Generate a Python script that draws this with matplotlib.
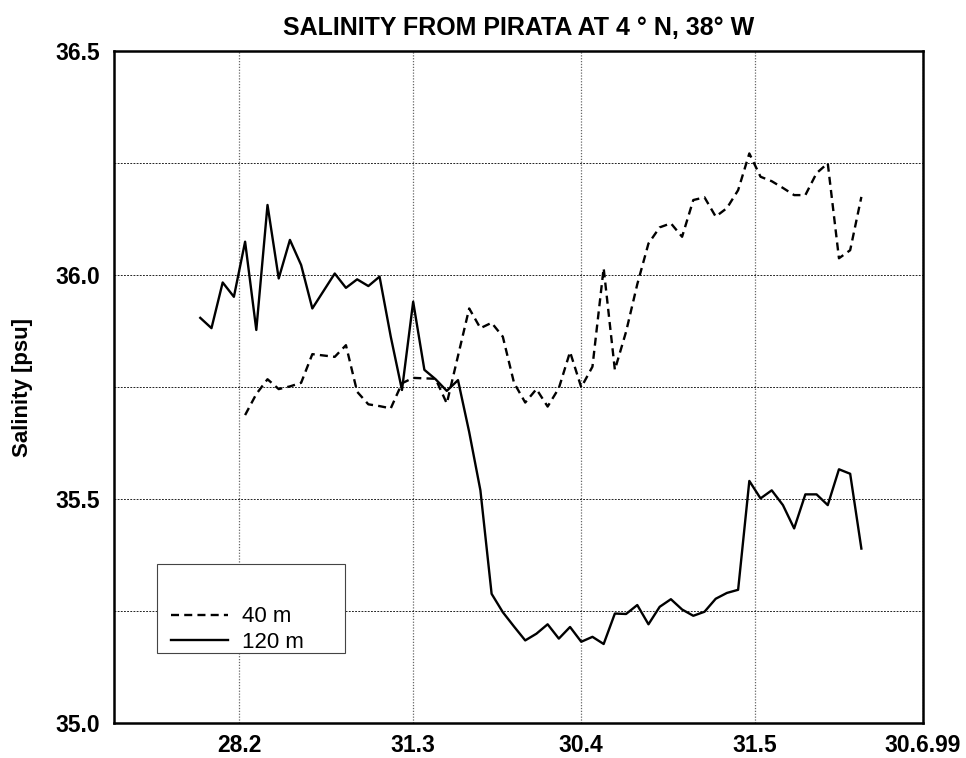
import numpy as np
import matplotlib
matplotlib.use("Agg")
import matplotlib.pyplot as plt
from matplotlib.patches import Rectangle

plt.rcParams['font.family'] = ['Liberation Sans', 'DejaVu Sans']

# day of year 1999, one sample every two days
days_40 = np.arange(60, 171, 2)
days_120 = np.arange(52, 171, 2)

sal_40 = [35.688, 35.735, 35.768, 35.746, 35.752, 35.760, 35.824, 35.821,
          35.818, 35.844, 35.740, 35.712, 35.708, 35.703, 35.759, 35.771,
          35.770, 35.769, 35.714, 35.820, 35.926, 35.882, 35.894, 35.863,
          35.760, 35.716, 35.746, 35.707, 35.748, 35.829, 35.750, 35.796,
          36.016, 35.789, 35.874, 35.980, 36.071, 36.107, 36.116, 36.086,
          36.168, 36.174, 36.131, 36.150, 36.190, 36.272, 36.220, 36.210,
          36.195, 36.179, 36.179, 36.228, 36.250, 36.038, 36.056, 36.175]

sal_120 = [35.905, 35.882, 35.984, 35.952, 36.075, 35.878, 36.157, 35.993,
           36.079, 36.023, 35.926, 35.965, 36.004, 35.972, 35.991, 35.976,
           35.997, 35.863, 35.744, 35.941, 35.789, 35.768, 35.742, 35.766,
           35.650, 35.520, 35.289, 35.248, 35.216, 35.185, 35.200, 35.221,
           35.189, 35.215, 35.182, 35.193, 35.177, 35.245, 35.244, 35.264,
           35.221, 35.260, 35.277, 35.254, 35.240, 35.249, 35.278, 35.291,
           35.298, 35.541, 35.502, 35.520, 35.487, 35.435, 35.511, 35.511,
           35.487, 35.567, 35.557, 35.390]

tick_days = [59, 90, 120, 151, 181]
tick_labels = ["28.2", "31.3", "30.4", "31.5", "30.6.99"]
y_major = [35.0, 35.5, 36.0, 36.5]
y_minor = [35.25, 35.75, 36.25]

fig = plt.figure(figsize=(9.66, 7.58), dpi=100)
ax = fig.add_axes([114/966, 1 - 723.3/758, 809/966, 672/758])

ax.plot(days_40, sal_40, color="black", linewidth=1.7, dashes=(3.4, 2.2), label="40 m")
ax.plot(days_120, sal_120, color="black", linewidth=1.7, label="120 m")

ax.set_xlim(36.6, 181)
ax.set_ylim(35.0, 36.5)
ax.set_xticks(tick_days)
ax.set_xticklabels(tick_labels)
ax.set_yticks(y_major)
ax.set_yticks(y_minor, minor=True)
ax.set_yticklabels([f"{v:.1f}" for v in y_major])

ax.grid(axis="x", which="major", color="#666666", linestyle=(0, (1, 1.3)), linewidth=0.9)
ax.grid(axis="y", which="both", color="black", linestyle=(0, (2.2, 1.6)), linewidth=0.6)

ax.tick_params(axis="both", which="both", length=0)
ax.tick_params(axis="x", pad=8)
ax.tick_params(axis="y", pad=10)
for lab in ax.get_xticklabels() + ax.get_yticklabels():
    lab.set_fontsize(16.5)
    lab.set_fontweight("bold")

for sp in ax.spines.values():
    sp.set_linewidth(1.8)

ax.set_ylabel("Salinity [psu]", fontsize=16, fontweight="bold", labelpad=16)
ax.set_title("SALINITY FROM PIRATA AT 4 ° N, 38° W", fontsize=18,
             fontweight="bold", pad=12)

# legend box
box = Rectangle((0.0535, 0.1046), 0.232, 0.1325, transform=ax.transAxes,
                facecolor="white", edgecolor="#444444", linewidth=0.8, zorder=4)
ax.add_patch(box)
leg = ax.legend(loc="lower left", bbox_to_anchor=(0.070, 0.105), frameon=False,
                fontsize=16, handlelength=2.6, handletextpad=0.6,
                labelspacing=0.2, borderaxespad=0, borderpad=0)
leg.set_zorder(5)

fig.savefig("out.png", dpi=100)
